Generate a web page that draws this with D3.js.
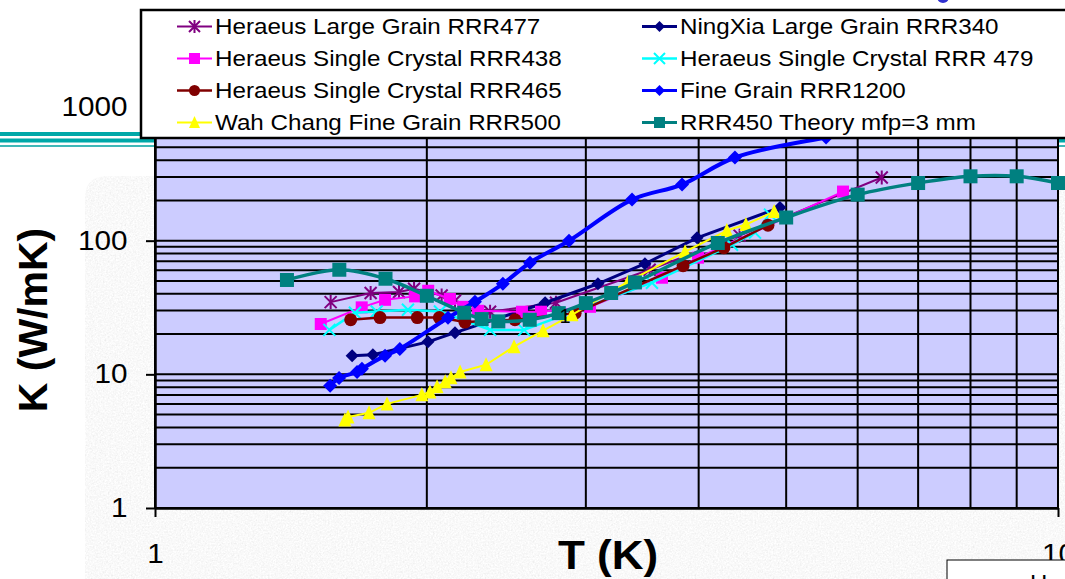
<!DOCTYPE html>
<html>
<head>
<meta charset="utf-8">
<script src="https://cdn.jsdelivr.net/npm/d3@7"></script>
<style>
  body { margin: 0; background: #fff; }
  svg { display: block; font-family: "Liberation Sans", Arial, sans-serif; }
</style>
</head>
<body>
<svg id="chart" width="1065" height="579"></svg>
<script>
// series: temperature T (K) and conductivity K (W/mK)
const tLG477 = [1.565, 1.733, 1.863, 1.936, 2.077, 2.149, 2.35, 2.78, 3.53, 4.44, 6.38];
const kLG477 = [34.7, 40.6, 41.3, 43.7, 38.9, 35.5, 29.4, 34.3, 60.6, 109, 297];

const tNX340 = [1.653, 1.743, 2.006, 2.149, 2.704, 3.094, 3.488, 3.984, 4.921];
const kNX340 = [13.8, 14.0, 17.5, 20.5, 34.3, 47.6, 67.2, 105, 177];

const tSC438 = [1.526, 1.694, 1.798, 1.941, 2.007, 2.121, 2.195, 2.279, 2.549, 2.676, 3.032, 3.643, 3.994, 5.78];
const kSC438 = [23.8, 31.7, 36.1, 38.3, 42.2, 36.6, 32.0, 29.9, 29.4, 29.4, 32.0, 52.8, 74.6, 233];

const tSC479 = [1.56, 1.665, 1.76, 1.906, 2.068, 2.35, 2.563, 3.551, 4.355, 4.618, 4.798];
const kSC479 = [21.5, 28.9, 29.5, 30.4, 29.5, 21.5, 21.5, 48.5, 93.3, 114.8, 156.6];

const tSC465 = [1.647, 1.775, 1.952, 2.065, 2.204, 2.504, 2.919, 3.844, 4.266, 4.773];
const kSC465 = [25.6, 26.6, 26.6, 26.6, 24.6, 25.6, 28.7, 65, 88.6, 130.6];

const tFG1200 = [1.563, 1.599, 1.674, 1.695, 1.798, 1.867, 2.111, 2.261, 2.428, 2.602, 2.874, 3.375, 3.834, 4.388, 5.535, 7.0];
const kFG1200 = [8.2, 9.4, 10.4, 11.0, 13.8, 15.5, 26.5, 34.9, 47.6, 68.4, 100, 203, 263, 419, 591, 760];

const tWC500 = [1.623, 1.636, 1.726, 1.807, 1.975, 2.016, 2.053, 2.096, 2.127, 2.177, 2.326, 2.498, 2.69, 2.896, 3.341, 3.864, 4.298, 4.512, 4.849];
const kWC500 = [4.56, 4.80, 5.15, 6.01, 7.02, 7.39, 8.06, 8.79, 9.42, 10.4, 11.8, 16.1, 21.2, 27.9, 49.3, 82.7, 119, 132, 165];

const tTheory = [1.4, 1.6, 1.8, 2.0, 2.2, 2.3, 2.4, 2.6, 2.8, 3.0, 3.2, 3.4, 4.2, 5, 6, 7, 8, 9, 10];
const kTheory = [50.8, 60.6, 51.9, 38.7, 28.9, 25.9, 24.9, 25.6, 28.7, 34.1, 40.6, 48.7, 96.1, 149, 221, 270, 303, 303, 270];

const seriesNames = [
  "Heraeus Large Grain RRR477", "NingXia Large Grain RRR340",
  "Heraeus Single Crystal RRR438", "Heraeus Single Crystal RRR 479",
  "Heraeus Single Crystal RRR465", "Fine Grain RRR1200",
  "Wah Chang Fine Grain RRR500", "RRR450 Theory mfp=3 mm"
];
const yTickValues = [1, 10, 100, 1000];
const xTickValues = [1, 10];

const zip = (t, k) => t.map((d, i) => ({ t: d, k: k[i] }));

const series = [
  { name: seriesNames[0], pts: zip(tLG477, kLG477), color: "#800080", width: 2, marker: "star", size: 12 },
  { name: seriesNames[1], pts: zip(tNX340, kNX340), color: "#000080", width: 3, marker: "diamond", size: 13 },
  { name: seriesNames[2], pts: zip(tSC438, kSC438), color: "#ff00ff", width: 2, marker: "square", size: 12 },
  { name: seriesNames[3], pts: zip(tSC479, kSC479), color: "#00ffff", width: 2.5, marker: "x", size: 12 },
  { name: seriesNames[4], pts: zip(tSC465, kSC465), color: "#800000", width: 2.5, marker: "circle", size: 13 },
  { name: seriesNames[5], pts: zip(tFG1200, kFG1200), color: "#0000ff", width: 4, marker: "diamond", size: 14, smooth: true },
  { name: seriesNames[6], pts: zip(tWC500, kWC500), color: "#ffff00", width: 2, marker: "triangle", size: 13 },
  { name: seriesNames[7], pts: zip(tTheory, kTheory), color: "#008080", width: 3.5, marker: "square", size: 14, smooth: true }
];

const svg = d3.select("#chart");
const W = 1065, H = 579;
const stretch = 1.1; // the slide text is a little wider than plain Arial

const x = d3.scaleLog().domain([1, 10]).range([155, 1058]);
const y = d3.scaleLog().domain([1, 1000]).range([508, 107]);

// slide background bits
const defs = svg.append("defs");
const grain = defs.append("filter").attr("id", "grain").attr("x", 0).attr("y", 0).attr("width", 1).attr("height", 1);
grain.append("feTurbulence").attr("type", "fractalNoise").attr("baseFrequency", 0.6).attr("numOctaves", 3).attr("seed", 7);
grain.append("feColorMatrix").attr("type", "matrix")
  .attr("values", "0.33 0.33 0.33 0 0 0.33 0.33 0.33 0 0 0.33 0.33 0.33 0 0 0 0 0 0 1");
const ct = grain.append("feComponentTransfer");
["feFuncR", "feFuncG", "feFuncB"].forEach(f => ct.append(f).attr("type", "linear").attr("slope", 0.4).attr("intercept", 0.75));
grain.append("feComposite").attr("operator", "in").attr("in2", "SourceGraphic");

svg.append("path")
  .attr("d", "M85,579 L85,198 Q85,176 108,176 L1065,176 L1065,579 Z")
  .attr("fill", "#eee")
  .attr("filter", "url(#grain)");

svg.append("rect").attr("x", 0).attr("y", 132).attr("width", W).attr("height", 4).attr("fill", "#00a8a8");
svg.append("rect").attr("x", 0).attr("y", 138.5).attr("width", W).attr("height", 4).attr("fill", "#00a8a8");
svg.append("rect").attr("x", 0).attr("y", 145).attr("width", W).attr("height", 2).attr("fill", "#40b8b8");

svg.append("circle").attr("cx", 943).attr("cy", -3).attr("r", 6).attr("fill", "#3030d0");

// plot area
svg.append("rect")
  .attr("x", x(1)).attr("y", y(1000))
  .attr("width", x(10) - x(1)).attr("height", y(1) - y(1000))
  .attr("fill", "#ccccff");

svg.append("g")
  .selectAll("line")
  .data(y.ticks())
  .join("line")
  .attr("x1", x(1)).attr("x2", x(10))
  .attr("y1", d => y(d)).attr("y2", d => y(d))
  .attr("stroke", "#000").attr("stroke-width", 2);

svg.append("g")
  .selectAll("line")
  .data(x.ticks())
  .join("line")
  .attr("x1", d => x(d)).attr("x2", d => x(d))
  .attr("y1", y(1000)).attr("y2", y(1))
  .attr("stroke", "#000").attr("stroke-width", 2);

const yAxis = svg.append("g")
  .attr("transform", `translate(${x(1)},0)`)
  .call(d3.axisLeft(y).tickValues(yTickValues).tickFormat(d3.format("d")).tickSize(9).tickSizeOuter(0).tickPadding(16));
const xAxis = svg.append("g")
  .attr("transform", `translate(0,${y(1)})`)
  .call(d3.axisBottom(x).tickValues(xTickValues).tickFormat(d3.format("d")).tickSize(9).tickSizeOuter(0).tickPadding(27));

[yAxis, xAxis].forEach(a => {
  a.select(".domain").attr("stroke", "#000").attr("stroke-width", 2.5);
  a.selectAll(".tick line").attr("stroke", "#000").attr("stroke-width", 2);
  a.selectAll("text").attr("font-size", 27).attr("fill", "#000")
    .attr("font-family", "Liberation Sans, Arial, sans-serif")
    .attr("transform", `scale(${stretch},1)`);
});

// marker drawing
function drawMarker(g, type, s, color) {
  const h = s / 2;
  if (type === "square") {
    g.append("rect").attr("x", -h).attr("y", -h).attr("width", s).attr("height", s).attr("fill", color);
  } else if (type === "diamond") {
    g.append("path").attr("d", `M0,${-h}L${h},0L0,${h}L${-h},0Z`).attr("fill", color);
  } else if (type === "circle") {
    g.append("circle").attr("r", h).attr("fill", color);
  } else if (type === "triangle") {
    g.append("path").attr("d", `M0,${-h - 1}L${h},${h}L${-h},${h}Z`).attr("fill", color);
  } else if (type === "x") {
    g.append("path").attr("d", `M${-h},${-h}L${h},${h}M${-h},${h}L${h},${-h}`)
      .attr("stroke", color).attr("stroke-width", 2);
  } else if (type === "star") {
    g.append("path").attr("d", `M${-h},${-h}L${h},${h}M${-h},${h}L${h},${-h}M0,${-h - 1}L0,${h + 1}`)
      .attr("stroke", color).attr("stroke-width", 2);
  }
}

const plot = svg.append("g");
series.forEach(s => {
  const line = d3.line()
    .x(d => x(d.t)).y(d => y(d.k))
    .curve(s.smooth ? d3.curveCatmullRom.alpha(0.5) : d3.curveLinear);
  const g = plot.append("g");
  g.append("path")
    .datum(s.pts)
    .attr("d", line)
    .attr("fill", "none")
    .attr("stroke", s.color)
    .attr("stroke-width", s.width)
    .attr("stroke-linejoin", "round");
  g.selectAll("g.m")
    .data(s.pts)
    .join("g")
    .attr("class", "m")
    .attr("transform", d => `translate(${x(d.t)},${y(d.k)})`)
    .each(function () { drawMarker(d3.select(this), s.marker, s.size, s.color); });
});

svg.append("text").attr("x", 565).attr("y", 323).attr("text-anchor", "middle")
  .attr("font-size", 20).attr("fill", "#000").text("1");

// legend
const legend = svg.append("g");
legend.append("rect")
  .attr("x", 141).attr("y", 10).attr("width", 940).attr("height", 128)
  .attr("fill", "#fff").attr("stroke", "#000").attr("stroke-width", 2.5);

const cols = [177, 642];
const rows = [26.5, 58.5, 90.5, 122.5];
series.forEach((s, i) => {
  const cx = cols[i % 2], cy = rows[Math.floor(i / 2)];
  const item = legend.append("g").attr("transform", `translate(${cx},${cy})`);
  item.append("line").attr("x1", 0).attr("x2", 35).attr("stroke", s.color).attr("stroke-width", Math.min(s.width, 3));
  drawMarker(item.append("g").attr("transform", "translate(17.5,0)"), s.marker, Math.min(s.size, 11), s.color);
  item.append("text").attr("x", 38 / stretch).attr("dy", "0.36em")
    .attr("transform", `scale(${stretch},1)`)
    .attr("font-size", 22).attr("fill", "#000").text(s.name);
});

// axis titles
svg.append("text")
  .attr("transform", `translate(608,569) scale(${stretch},1)`)
  .attr("text-anchor", "middle")
  .attr("font-size", 40).attr("font-weight", "bold").attr("fill", "#000")
  .text("T (K)");
svg.append("text")
  .attr("transform", "translate(47,320) rotate(-90)")
  .attr("text-anchor", "middle")
  .attr("font-size", 41).attr("font-weight", "bold").attr("fill", "#000")
  .text("K (W/mK)");

// bottom-right text box of the slide, cut off
svg.append("rect").attr("x", 947).attr("y", 560).attr("width", 140).attr("height", 40)
  .attr("fill", "#fff").attr("stroke", "#000").attr("stroke-width", 1);
svg.append("text").attr("x", 1030).attr("y", 592).attr("font-size", 24).attr("fill", "#000").text("He");
</script>
</body>
</html>
